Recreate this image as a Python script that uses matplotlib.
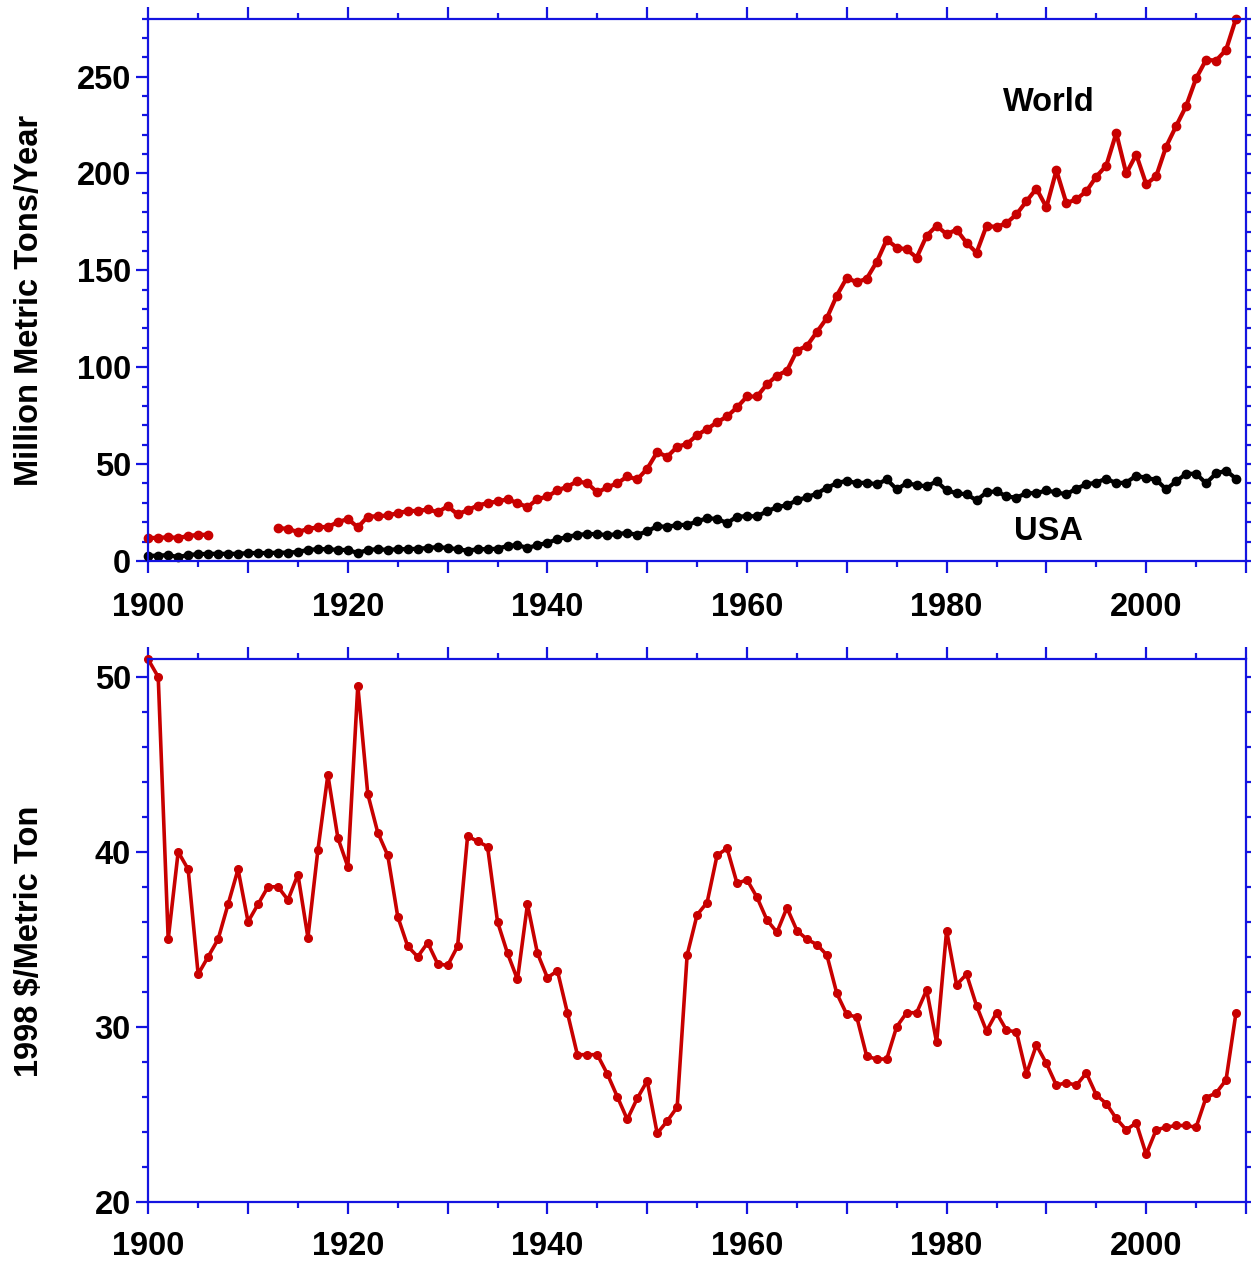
import matplotlib
matplotlib.use('Agg')
import matplotlib.pyplot as plt
import numpy as np
from matplotlib.ticker import MultipleLocator, FuncFormatter

nan = np.nan
years = list(range(1900, 2010))

# world production, million metric tons/year (gap 1907-1912)
world = [11.9, 11.9, 12.3, 11.9, 12.9, 13.5, 13.5, nan, nan, nan,
         nan, nan, nan, 17.0, 16.6, 14.9, 16.6, 17.4, 17.6, 20.0,
         21.7, 17.4, 22.9, 23.1, 23.5, 24.7, 25.8, 25.8, 26.6, 25.2,
         28.2, 24.1, 26.2, 28.6, 29.9, 30.7, 31.9, 29.9, 27.8, 31.9,
         33.3, 36.4, 38.4, 41.1, 40.1, 35.4, 38.0, 40.1, 43.6, 42.1,
         47.6, 56.2, 53.8, 58.9, 60.5, 65.0, 68.1, 71.6, 74.6, 79.3,
         84.9, 84.9, 91.2, 95.7, 98.2, 108.6, 111.0, 118.2, 125.4, 137.0,
         146.2, 143.8, 145.8, 154.4, 165.8, 161.8, 160.8, 156.6, 167.9, 173.0,
         168.7, 171.0, 164.2, 159.1, 173.0, 172.4, 174.4, 178.9, 185.7, 192.2,
         182.6, 201.6, 184.7, 186.7, 190.8, 198.4, 204.1, 220.9, 200.0, 209.8,
         194.5, 198.6, 213.9, 224.5, 234.8, 249.1, 258.7, 258.3, 263.8, 280.0]

usa = [2.7, 2.7, 3.1, 2.0, 3.1, 3.5, 3.7, 3.7, 3.7, 3.7,
       4.1, 4.1, 4.1, 4.3, 4.3, 4.7, 5.7, 6.1, 6.1, 5.7,
       5.7, 4.1, 5.7, 6.1, 5.7, 6.1, 6.1, 6.3, 6.7, 7.2,
       6.7, 6.1, 5.3, 6.1, 6.1, 6.3, 7.8, 8.2, 6.7, 8.2,
       9.4, 11.2, 12.5, 13.5, 13.9, 13.9, 13.3, 13.9, 14.5, 13.5,
       15.3, 18.0, 17.6, 18.6, 18.6, 20.4, 22.1, 21.7, 19.6, 22.9,
       23.1, 23.1, 25.6, 27.8, 28.8, 31.3, 32.9, 34.8, 37.8, 40.1,
       41.5, 40.1, 40.5, 39.5, 42.1, 37.0, 40.1, 39.2, 38.5, 41.1,
       36.4, 35.0, 34.4, 31.3, 35.4, 36.0, 33.3, 32.7, 35.0, 35.0,
       36.4, 35.4, 34.4, 37.4, 39.5, 40.5, 42.5, 40.1, 40.5, 44.0,
       42.9, 41.9, 37.0, 41.1, 45.0, 45.0, 40.1, 45.2, 46.6, 42.5]

# price, 1998 $/metric ton
price = [51.0, 50.0, 35.0, 40.0, 39.0, 33.0, 34.0, 35.0, 37.0, 39.0,
         36.0, 37.0, 38.0, 38.0, 37.25, 38.7, 35.1, 40.1, 44.4, 40.8,
         39.15, 49.5, 43.3, 41.1, 39.8, 36.3, 34.6, 34.0, 34.8, 33.6,
         33.5, 34.6, 40.9, 40.6, 40.3, 36.0, 34.2, 32.7, 37.0, 34.2,
         32.8, 33.2, 30.8, 28.4, 28.4, 28.4, 27.3, 26.0, 24.7, 25.9,
         26.9, 23.9, 24.6, 25.4, 34.1, 36.4, 37.1, 39.8, 40.2, 38.2,
         38.4, 37.4, 36.1, 35.4, 36.8, 35.5, 35.0, 34.7, 34.1, 31.9,
         30.7, 30.55, 28.3, 28.15, 28.15, 30.0, 30.8, 30.8, 32.1, 29.1,
         35.5, 32.4, 33.0, 31.2, 29.75, 30.8, 29.8, 29.7, 27.3, 28.95,
         27.9, 26.65, 26.8, 26.65, 27.35, 26.1, 25.6, 24.75, 24.1, 24.5,
         22.7, 24.1, 24.25, 24.35, 24.35, 24.25, 25.95, 26.2, 26.95, 30.8]

plt.rcParams['font.family'] = ['Liberation Sans', 'DejaVu Sans']
plt.rcParams['font.weight'] = 'bold'
fs = 23.5
red = '#c80000'
blue = '#1414e0'

fig = plt.figure(figsize=(12.51, 12.68), dpi=100)
ax1 = fig.add_axes([0.1185, 0.5576, 0.8775, 0.4278])
ax2 = fig.add_axes([0.1185, 0.0524, 0.8775, 0.4275])


def style(ax, ymajor, yminor, xpad):
    ax.set_xlim(1900, 2010)
    ax.xaxis.set_major_locator(MultipleLocator(10))
    ax.xaxis.set_minor_locator(MultipleLocator(5))
    ax.xaxis.set_major_formatter(FuncFormatter(lambda v, p: '%d' % v if int(v) % 20 == 0 else ''))
    ax.yaxis.set_major_locator(MultipleLocator(ymajor))
    ax.yaxis.set_minor_locator(MultipleLocator(yminor))
    for s in ax.spines.values():
        s.set_color(blue)
        s.set_linewidth(1.6)
    ax.tick_params(which='both', direction='out', color=blue, width=1.6,
                   top=True, right=True, labelsize=fs)
    ax.tick_params(which='major', length=8.5)
    ax.tick_params(which='minor', length=4.3)
    ax.tick_params(axis='x', pad=xpad)
    ax.tick_params(axis='y', pad=4)
    for lab in ax.get_xticklabels() + ax.get_yticklabels():
        lab.set_fontweight('bold')


# top: production
ax1.plot(years, usa, '-o', color='black', lw=3, ms=6, clip_on=False)
ax1.plot(years, world, '-o', color=red, lw=3, ms=6, clip_on=False)
ax1.set_ylim(0, 280)
style(ax1, 50, 10, 14)
ax1.text(1990.2, 236.5, 'World', fontsize=fs, fontweight='bold', ha='center', va='center')
ax1.text(1990.2, 15, 'USA', fontsize=fs, fontweight='bold', ha='center', va='center')
ax1.set_ylabel('Million Metric Tons/Year', fontsize=fs, fontweight='bold')
ax1.yaxis.set_label_coords(-0.094, 0.48)

# bottom: price
ax2.plot(years, price, '-o', color=red, lw=2.6, ms=5.5, clip_on=False)
ax2.set_ylim(20, 51)
style(ax2, 10, 2, 12.5)
ax2.set_ylabel('1998 $/Metric Ton', fontsize=fs, fontweight='bold')
ax2.yaxis.set_label_coords(-0.094, 0.48)

fig.savefig('out.png', dpi=100)
